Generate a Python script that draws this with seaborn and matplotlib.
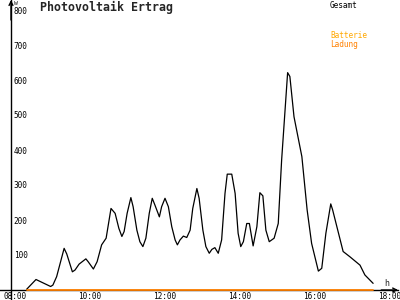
import matplotlib
matplotlib.use("Agg")
import matplotlib.pyplot as plt
import seaborn as sns
import pandas as pd

# --- data (hours, W) ---
hours = [8.31, 8.56, 8.95, 9.01, 9.11, 9.31, 9.38, 9.53, 9.60, 9.71, 9.89, 9.95,
         10.09, 10.19, 10.31, 10.43, 10.56, 10.67, 10.77, 10.85, 10.91, 10.99,
         11.09, 11.15, 11.25, 11.33, 11.41, 11.49, 11.58, 11.66, 11.73, 11.85,
         11.91, 12.00, 12.09, 12.18, 12.27, 12.33, 12.40, 12.49, 12.58, 12.67,
         12.74, 12.85, 12.91, 13.01, 13.09, 13.18, 13.25, 13.33, 13.42, 13.51,
         13.60, 13.66, 13.78, 13.87, 13.95, 14.02, 14.09, 14.18, 14.25, 14.35,
         14.45, 14.53, 14.61, 14.69, 14.78, 14.91, 15.02, 15.11, 15.27, 15.33,
         15.44, 15.65, 15.79, 15.91, 16.09, 16.18, 16.29, 16.42, 16.47, 16.75,
         16.93, 17.20, 17.33, 17.55]
gesamt = [2, 30, 10, 14, 38, 119, 103, 52, 57, 74, 89, 81,
          60, 81, 129, 148, 233, 219, 176, 153, 167, 219,
          264, 238, 171, 138, 124, 148, 219, 262, 243, 209,
          238, 262, 238, 181, 143, 129, 143, 154, 150, 171,
          233, 290, 262, 171, 124, 105, 116, 121, 105, 143,
          276, 331, 331, 276, 162, 124, 138, 190, 190, 126,
          181, 278, 269, 171, 138, 148, 190, 371, 621, 610,
          495, 381, 229, 133, 54, 62, 162, 246, 229, 110,
          95, 71, 43, 19]
ladung = [0] * len(hours)

y_ticks = [100, 200, 300, 400, 500, 600, 700, 800]
x_ticks = [8, 10, 12, 14, 16, 18]
x_tick_labels = ["08:00", "10:00", "12:00", "14:00", "16:00", "18:00"]

df = pd.DataFrame({"h": hours, "Gesamt": gesamt, "Ladung": ladung})

sns.set_style("white")
plt.rcParams["font.family"] = ["DejaVu Sans Mono", "DejaVu Sans"]

fig = plt.figure(figsize=(4, 3), dpi=100)
ax = fig.add_axes([0, 0, 1, 1])
ax.set_facecolor("white")

sns.lineplot(data=df, x="h", y="Gesamt", ax=ax, color="black", lw=0.9, zorder=3)
sns.lineplot(data=df, x="h", y="Ladung", ax=ax, color="#FF8000", lw=1.3, zorder=4)

x0 = 8 - 15 / 37.5
x1 = 8 + 385 / 37.5
ax.set_xlim(x0, x1)
ax.set_ylim(-10 / 0.35, 290 / 0.35)
yaxis_x = 8 + (11 - 15) / 37.5

ax.spines["top"].set_visible(False)
ax.spines["right"].set_visible(False)
ax.spines["left"].set_position(("data", yaxis_x))
ax.spines["bottom"].set_position(("data", 0))
for s in ("left", "bottom"):
    ax.spines[s].set_color("black")
    ax.spines[s].set_linewidth(1.0)
ax.spines["bottom"].set_bounds(x0, x1 - 0.05)

ax.set_yticks(y_ticks)
ax.set_yticklabels([str(v) for v in y_ticks])
ax.set_xticks(x_ticks)
ax.set_xticklabels(x_tick_labels)
ax.tick_params(axis="y", direction="inout", length=5, width=1, pad=-4.4,
               labelsize=5.6, colors="black")
ax.tick_params(axis="x", direction="inout", length=5, width=1, pad=-1.3,
               labelsize=5.6, colors="black")
for lbl in ax.get_yticklabels():
    lbl.set_ha("left")
ax.set_xlabel("")
ax.set_ylabel("")
ax.grid(False)

# arrow heads
ax.annotate("", xy=(yaxis_x, 290 / 0.35), xytext=(yaxis_x, 270 / 0.35),
            arrowprops=dict(arrowstyle="->", lw=1.0, color="black", mutation_scale=7,
                            shrinkA=0, shrinkB=0))
ax.annotate("", xy=(x1 - 0.05, 0), xytext=(x1 - 0.5, 0),
            arrowprops=dict(arrowstyle="->", lw=1.0, color="black", mutation_scale=7,
                            shrinkA=0, shrinkB=0))

fig.text(14 / 400, 1 - 3.8 / 300, "W", fontsize=4.6, va="center", ha="left")
fig.text(387 / 400, 1 - 283 / 300, "h", fontsize=6, va="center", ha="center")
fig.text(40 / 400, 1 - 7.5 / 300, "Photovoltaik Ertrag", fontsize=8.4,
         fontweight="bold", va="center", ha="left")
fig.text(330 / 400, 1 - 5 / 300, "Gesamt", fontsize=5.6, va="center", ha="left",
         color="black")
fig.text(330 / 400, 1 - 36 / 300, "Batterie", fontsize=5.6, va="center", ha="left",
         color="#FFA800")
fig.text(330 / 400, 1 - 44 / 300, "Ladung", fontsize=5.6, va="center", ha="left",
         color="#FF8000")

fig.savefig("out.png", dpi=100)
